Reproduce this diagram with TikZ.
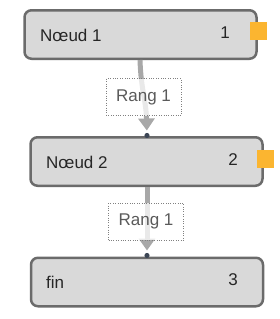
\documentclass[tikz,border=0pt]{standalone}
\usepackage{fontspec}
\setmainfont{Liberation Sans}
\usetikzlibrary{arrows.meta}
\definecolor{fondboite}{HTML}{D9D9D9}
\definecolor{bordboite}{HTML}{6B6B6B}
\definecolor{orange}{HTML}{FBB530}
\definecolor{fleche}{HTML}{A8A8A8}
\definecolor{point}{HTML}{3C4655}
\definecolor{texterang}{HTML}{5A5A5A}
\tikzset{
	boite/.style={draw=bordboite,fill=fondboite,line width=2.5pt,rounded corners=7pt,minimum width=232,minimum height=48.5},
	port/.style={fill=orange,minimum width=17,minimum height=18,inner sep=0pt},
	rang/.style={draw=gray,dotted,fill=white,fill opacity=0.75,text opacity=1,text=texterang,minimum width=75,minimum height=37},
	lien/.style={draw=fleche,line width=5pt,-{Triangle[width=16pt,length=12pt]},shorten >=5pt},
	txt/.style={text=black!85,inner sep=0pt}
}
\begin{document}
\begin{tikzpicture}[x=1pt,y=-1pt]
		\useasboundingbox (0,0) rectangle (280,319);
		\fontsize{17}{20}\selectfont
		\node[boite] (n1) at (140.5,34.5) {};
		\node[boite] (n2) at (146.5,161.5) {};
		\node[boite] (fin) at (147,282) {};
		\node[port] (p1) at (258.5,31) {};
		\node[port] (p2) at (265,159) {};
		\coordinate (d2) at (147,135.5);
		\coordinate (d3) at (147,255.5);
		\draw[lien] ([xshift=-0.5]n1.south) .. controls (141,90) and (146,100) .. (d2);
		\draw[lien] (n2.south -| d3) -- (d3);
		\fill[point] (d2) circle (2.6);
		\fill[point] (d3) circle (2.6);
		%étiquettes
		\node[rang] (r1) at (143.5,97) {Rang 1};
		\node[rang] (r2) at (146,221.5) {Rang 1};
		%textes
		\node[txt,anchor=west] (t1) at (40,35) {Nœud 1};
		\node[txt,anchor=east] (c1) at (230,33) {1};
		\node[txt,anchor=west] (t2) at (46,162) {Nœud 2};
		\node[txt,anchor=east] (c2) at (238,160) {2};
		\node[txt,anchor=west] (t3) at (46,282) {fin};
		\node[txt,anchor=east] (c3) at (238,280) {3};
	\end{tikzpicture}
\end{document}
